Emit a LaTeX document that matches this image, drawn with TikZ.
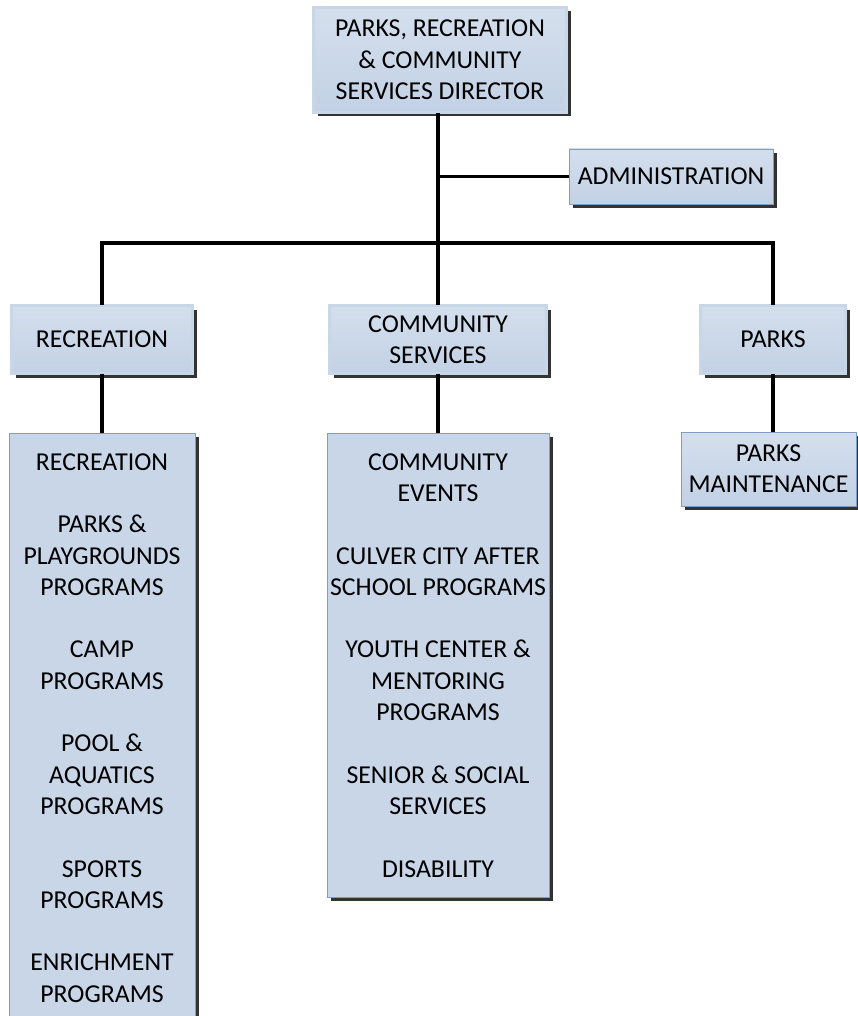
\documentclass[tikz,border=0pt]{standalone}
\usepackage{fontspec}
\setmainfont{Carlito}
\usepackage{tikz}
\usetikzlibrary{shadows,calc}
\definecolor{boxtop}{HTML}{D4DFED}
\definecolor{boxbottom}{HTML}{C2D1E5}
\definecolor{boxfill}{HTML}{C8D6E8}
\definecolor{boxline}{HTML}{7F9DC7}
\definecolor{shadowgray}{HTML}{333333}
\tikzset{
	link/.style={line width=3.2pt, black}
}
\tikzstyle{orgbox}=[rectangle, draw=boxline, line width=0.8pt, top color=boxtop, bottom color=boxbottom, inner sep=2pt, align=center, font=\fontsize{25.8}{31.3}\selectfont, drop shadow={shadow xshift=4pt, shadow yshift=-4pt, fill=shadowgray, opacity=1}]
\tikzstyle{headbox}=[orgbox, double=boxfill, double distance=2.4pt, line width=0.7pt]
\tikzstyle{listbox}=[orgbox, fill=boxfill, top color=boxfill, bottom color=boxfill, anchor=north, inner ysep=20pt]

\begin{document}
\begin{tikzpicture}[x=1pt, y=-1pt]
	\useasboundingbox (0,0) rectangle (857,1016);
	\node[headbox, minimum width=253pt, minimum height=105pt] (director) at (440,60) {PARKS, RECREATION\\\& COMMUNITY\\SERVICES DIRECTOR};
	\node[orgbox, minimum width=204pt, minimum height=55pt] (admin) at (671,176.5) {ADMINISTRATION};
	\node[headbox, minimum width=181pt, minimum height=68pt] (recreation) at (102,339.5) {RECREATION};
	\node[headbox, minimum width=217pt, minimum height=68pt] (commserv) at (438,339.5) {COMMUNITY\\SERVICES};
	\node[headbox, minimum width=145pt, minimum height=68pt] (parks) at (773,339.5) {PARKS};
	\node[orgbox, minimum width=175pt, minimum height=74pt] (maint) at (768.5,469) {PARKS\\MAINTENANCE};
	\node[listbox, minimum width=186pt] (reclist) at (102,433) {RECREATION\\[\baselineskip]PARKS \&\\PLAYGROUNDS\\PROGRAMS\\[\baselineskip]CAMP\\PROGRAMS\\[\baselineskip]POOL \&\\AQUATICS\\PROGRAMS\\[\baselineskip]SPORTS\\PROGRAMS\\[\baselineskip]ENRICHMENT\\PROGRAMS\\[\baselineskip]\mbox{}\\\mbox{}};
	\node[listbox, minimum width=222pt] (commlist) at (438,433) {COMMUNITY\\EVENTS\\[\baselineskip]CULVER CITY AFTER\\SCHOOL PROGRAMS\\[\baselineskip]YOUTH CENTER \&\\MENTORING\\PROGRAMS\\[\baselineskip]SENIOR \& SOCIAL\\SERVICES\\[\baselineskip]DISABILITY};
	\coordinate (bus) at (438,243);
	\draw[link] (director.south -| commserv.north) -- (bus);
	\draw[link] (admin.west) -- (admin.west -| bus);
	\draw[link] (recreation.north) |- (bus) -| (parks.north);
	\draw[link] (bus) -- (commserv.north);
	\draw[link] (recreation.south) -- (reclist.north);
	\draw[link] (commserv.south) -- (commlist.north);
	\draw[link] (parks.south) -- (parks.south |- maint.north);
\end{tikzpicture}
\end{document}
